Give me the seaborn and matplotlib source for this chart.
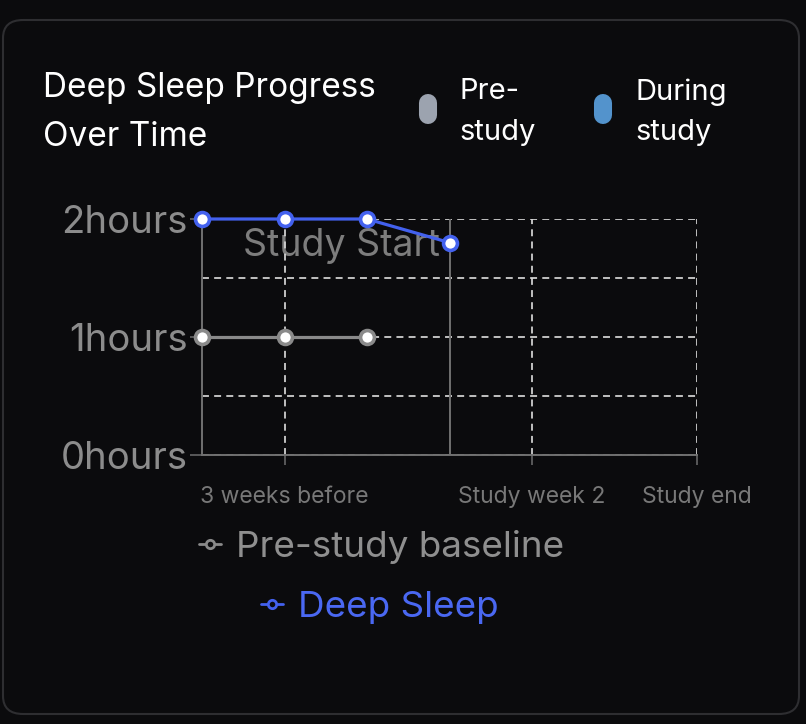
import pandas as pd
import matplotlib
matplotlib.use("Agg")
import matplotlib.pyplot as plt
import seaborn as sns
from matplotlib.lines import Line2D
from matplotlib.patches import FancyBboxPatch

# data
weeks_pre = [0, 1, 2]
hours_pre = [1.0, 1.0, 1.0]
weeks_deep = [0, 1, 2, 3]
hours_deep = [2.0, 2.0, 2.0, 1.8]

xtick_pos = [1, 4, 6]
xtick_labels = ["3 weeks before", "Study week 2", "Study end"]
ytick_pos = [0, 1, 2]
ytick_labels = ["0hours", "1hours", "2hours"]
study_start = 3

BG = "#0b0b0d"
GREY_LINE = "#8a8a8a"
BLUE_LINE = "#4361ee"
TXT_GREY = "#8c8c8c"

sns.set_theme(style="dark", rc={"axes.facecolor": BG, "figure.facecolor": BG})
plt.rcParams["font.family"] = ["Inter", "DejaVu Sans"]

df_pre = pd.DataFrame({"week": weeks_pre, "hours": hours_pre})
df_deep = pd.DataFrame({"week": weeks_deep, "hours": hours_deep})

fig = plt.figure(figsize=(8.06, 7.24), dpi=100)
fig.patch.set_facecolor(BG)

card = FancyBboxPatch((3 / 806, 10 / 724), 796 / 806, 694 / 724,
                      boxstyle="round,pad=0,rounding_size=0.025",
                      transform=fig.transFigure, facecolor=BG,
                      edgecolor="#2e2e31", linewidth=1.5, zorder=-5)
fig.patches.append(card)

ax = fig.add_axes([202 / 806, 1 - 455 / 724, 495 / 806, 236 / 724])
ax.set_facecolor("none")

sns.lineplot(data=df_pre, x="week", y="hours", ax=ax, color=GREY_LINE, lw=2.3,
             marker="o", markersize=10, markerfacecolor="white",
             markeredgecolor=GREY_LINE, markeredgewidth=2.6, clip_on=False,
             zorder=4, legend=False)
sns.lineplot(data=df_deep, x="week", y="hours", ax=ax, color=BLUE_LINE, lw=2.3,
             marker="o", markersize=10, markerfacecolor="white",
             markeredgecolor=BLUE_LINE, markeredgewidth=2.6, clip_on=False,
             zorder=5, legend=False)

ax.set_xlim(0, 6)
ax.set_ylim(0, 2)
ax.set_xticks(xtick_pos)
ax.set_xticklabels(xtick_labels, fontsize=16.5, color="#787878")
ax.set_yticks(ytick_pos)
ax.set_yticklabels(ytick_labels, fontsize=27.5, color=TXT_GREY)
ax.set_yticks([0.5, 1.5], minor=True)
ax.tick_params(axis="x", length=7, width=1.2, color="#666666", pad=15, bottom=True)
ax.tick_params(axis="y", which="major", length=8.6, width=1.2, color="#666666", pad=1.5, left=True)
ax.tick_params(axis="y", which="minor", length=0)
ax.set_xlabel("")
ax.set_ylabel("")

ax.grid(True, axis="x", color="#d6d6d6", linestyle=(0, (4, 3)), linewidth=1.25)
ax.grid(True, axis="y", which="both", color="#d6d6d6", linestyle=(0, (4, 3)), linewidth=1.25)
ax.set_axisbelow(True)

for side in ["top", "right"]:
    ax.spines[side].set_visible(False)
for side in ["left", "bottom"]:
    ax.spines[side].set_color("#707070")
    ax.spines[side].set_linewidth(1.4)

ax.axvline(study_start, color="#707070", lw=1.4, zorder=2)
ax.text(study_start - 0.11, 1.925, "Study Start", ha="right", va="top",
        fontsize=27, color="#7d7d7d", zorder=0.4)

# title and top chips
fig.text(43 / 806, 1 - 112 / 724, "Deep Sleep Progress\nOver Time", color="white",
         fontsize=24, ha="left", va="center", linespacing=1.68)
fig.add_artist(Line2D([428 / 806, 428 / 806], [1 - 103 / 724, 1 - 115 / 724],
                      transform=fig.transFigure, color="#9ca3af", lw=13,
                      solid_capstyle="round"))
fig.add_artist(Line2D([603 / 806, 603 / 806], [1 - 103 / 724, 1 - 115 / 724],
                      transform=fig.transFigure, color="#5393cc", lw=13,
                      solid_capstyle="round"))
fig.text(459 / 806, 1 - 112 / 724, "Pre-\nstudy", color="white", fontsize=21,
         ha="left", va="center", linespacing=1.63)
fig.text(635 / 806, 1 - 112 / 724, "During\nstudy", color="white", fontsize=21,
         ha="left", va="center", linespacing=1.63)

# bottom legend entries
h_pre = Line2D([], [], color=GREY_LINE, lw=2, marker="o", markersize=6,
               markerfacecolor=BG, markeredgecolor=GREY_LINE, markeredgewidth=2)
h_deep = Line2D([], [], color=BLUE_LINE, lw=2, marker="o", markersize=6,
                markerfacecolor=BG, markeredgecolor=BLUE_LINE, markeredgewidth=2)
leg1 = fig.legend([h_pre], ["Pre-study baseline"], loc="center left",
                  bbox_to_anchor=(199 / 806, 1 - 547 / 724), frameon=False,
                  fontsize=26.5, handlelength=0.6, handletextpad=0.4,
                  borderpad=0, borderaxespad=0, labelcolor=["#8f8f8f"])
leg2 = fig.legend([h_deep], ["Deep Sleep"], loc="center left",
                  bbox_to_anchor=(261 / 806, 1 - 607 / 724), frameon=False,
                  fontsize=26.5, handlelength=0.6, handletextpad=0.4,
                  borderpad=0, borderaxespad=0, labelcolor=["#4a68f2"])

fig.savefig("out.png", dpi=100, facecolor=BG)
